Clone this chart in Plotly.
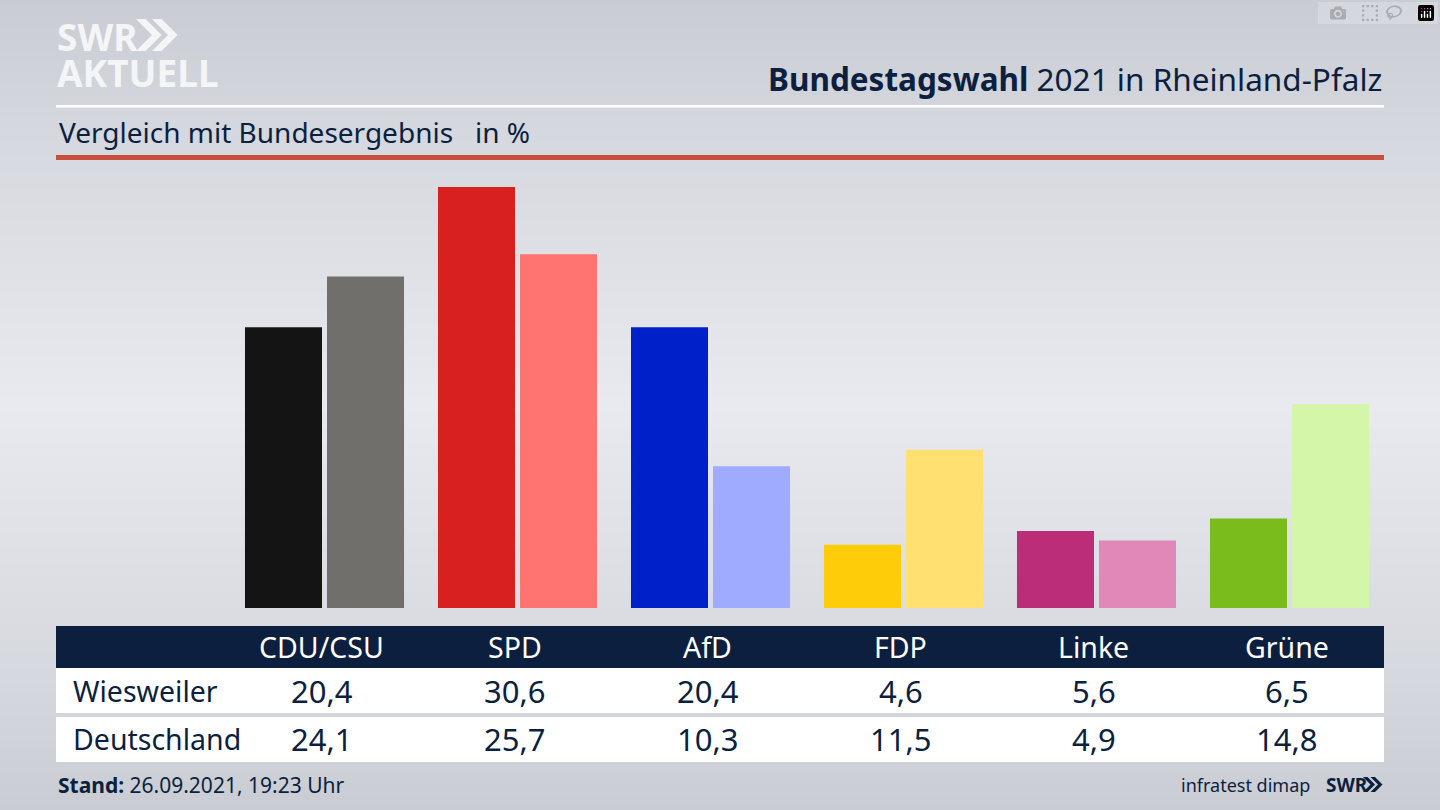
## Bundestagswahl 2021 chart, Wiesweiler vs Deutschland

## Imports
import plotly.graph_objects as go


## Data
parties = ["CDU/CSU", "SPD", "AfD", "FDP", "Linke", "Grüne"]
wiesweiler = [20.4, 30.6, 20.4, 4.6, 5.6, 6.5]
deutschland = [24.1, 25.7, 10.3, 11.5, 4.9, 14.8]
row_names = ["Wiesweiler", "Deutschland"]

colors_local = ["#141414", "#d8201f", "#0021c9", "#ffcc0a", "#bb2d76", "#79bc1c"]
colors_national = ["#716f6c", "#ff7370", "#9eabff", "#ffe070", "#e089b8", "#d3f6a8"]

navy = "#0c1f3f"
font_name = "Noto Sans"


## Pixel helpers for the 1440x810 page
def px_x(v):
    return v / 1440


def px_y(v):
    return 1 - v / 810


def de(v):
    return f"{v:.1f}".replace(".", ",")


def label(text, x, y, size, color=navy, anchor="left", xref="paper", xshift=0, **kw):
    return dict(
        text=text, x=x if xref != "paper" else px_x(x), y=px_y(y),
        xref=xref, yref="paper", xanchor=anchor, yanchor="middle", xshift=xshift,
        showarrow=False, font=dict(family=font_name, size=size, color=color), **kw,
    )


def rect(x0, y0, x1, y1, color):
    return dict(
        type="rect", xref="paper", yref="paper", layer="above", line_width=0, fillcolor=color,
        x0=px_x(x0), x1=px_x(x1), y0=px_y(y0), y1=px_y(y1),
    )


def chevrons(x, y, h, color):
    # two ">" marks for the SWR logo
    w = h * 0.5
    t = h * 0.3
    path = ""
    for dx in (0, w * 1.0):
        x0 = x + dx
        pts = [(x0, y), (x0 + t, y), (x0 + t + w, y + h / 2), (x0 + t, y + h), (x0, y + h), (x0 + w, y + h / 2)]
        path += "M" + " L".join(f"{px_x(a)},{px_y(b)}" for a, b in pts) + " Z "
    return dict(type="path", xref="paper", yref="paper", path=path, fillcolor=color, line_width=0, layer="above")


## Background gradient, drawn as a smoothed heatmap on the base axes
background = go.Heatmap(
    z=[[0, 0], [1, 1], [2, 2], [3, 3], [2, 2], [1, 1], [0, 0]],
    x=[0, 1],
    y=[0, 1, 2, 3, 4, 5, 6],
    zsmooth="best",
    showscale=False,
    hoverinfo="skip",
    colorscale=[[0, "#c9ccd3"], [0.33, "#d5d8de"], [0.67, "#dfe1e7"], [1, "#e9eaef"]],
)

## Bars
bar_local = go.Bar(x=parties, y=wiesweiler, name=row_names[0], marker=dict(color=colors_local, line_width=0),
                   xaxis="x2", yaxis="y2")
bar_national = go.Bar(x=parties, y=deutschland, name=row_names[1], marker=dict(color=colors_national, line_width=0),
                      xaxis="x2", yaxis="y2")

fig = go.Figure(data=[background, bar_local, bar_national])

## Shapes
shapes = [
    rect(56, 105, 1384, 107.5, "#ffffff"),
    rect(56, 155, 1384, 160, "#c8503c"),
    rect(56, 626, 1384, 668, navy),
    rect(56, 668, 1384, 713, "#ffffff"),
    rect(56, 717, 1384, 762, "#ffffff"),
    chevrons(136, 19, 32, "#f4f5f7"),
    chevrons(1363, 777, 15, navy),
]

## Text
annotations = [
    label("<b>SWR</b>", 55, 36, 37, "#f4f5f7", height=30),
    label("<b>AKTUELL</b>", 55, 72, 37, "#f4f5f7", height=30),
    label("<b>Bundestagswahl</b> 2021 in Rheinland-Pfalz", 1384, 78, 31.5, anchor="right"),
    label("Vergleich mit Bundesergebnis   in %", 57, 132, 28),
    label(row_names[0], 71, 691, 28.5),
    label(row_names[1], 71, 739, 28.5),
    label("<b>Stand:</b> 26.09.2021, 19:23 Uhr", 56, 785, 21),
    label("infratest dimap", 1312, 785, 18, anchor="right"),
    label("<b>SWR</b>", 1324, 785, 19),
]
for i, party in enumerate(parties):
    annotations.append(label(party, party, 647, 28.5, "#ffffff", "center", "x2", -3))
    annotations.append(label(de(wiesweiler[i]), party, 691, 31, navy, "center", "x2", -3))
    annotations.append(label(de(deutschland[i]), party, 739, 31, navy, "center", "x2", -3))

## Layout
hidden = dict(visible=False, showgrid=False, zeroline=False, fixedrange=True)
fig.update_layout(
    width=1440, height=810,
    margin=dict(l=0, r=0, t=0, b=0),
    showlegend=False,
    barmode="group", bargap=0.15, bargroupgap=0.061,
    paper_bgcolor="#dfe1e7", plot_bgcolor="rgba(0,0,0,0)",
    xaxis=dict(hidden, domain=[0, 1], range=[0, 1]),
    yaxis=dict(hidden, domain=[0, 1], range=[0, 6]),
    xaxis2=dict(hidden, domain=[0, 1], overlaying="x", type="category", categoryorder="array",
                categoryarray=parties, range=[-324.5 / 193, (1440 - 324.5) / 193]),
    yaxis2=dict(hidden, domain=[0, 1], overlaying="y", range=[-202 / 13.76, 608 / 13.76]),
    shapes=shapes,
    annotations=annotations,
)

# the page body has a default margin, drop it so the chart fills the window
fig.write_html("out.html", post_script="document.body.style.margin='0';document.body.style.overflow='hidden';")
